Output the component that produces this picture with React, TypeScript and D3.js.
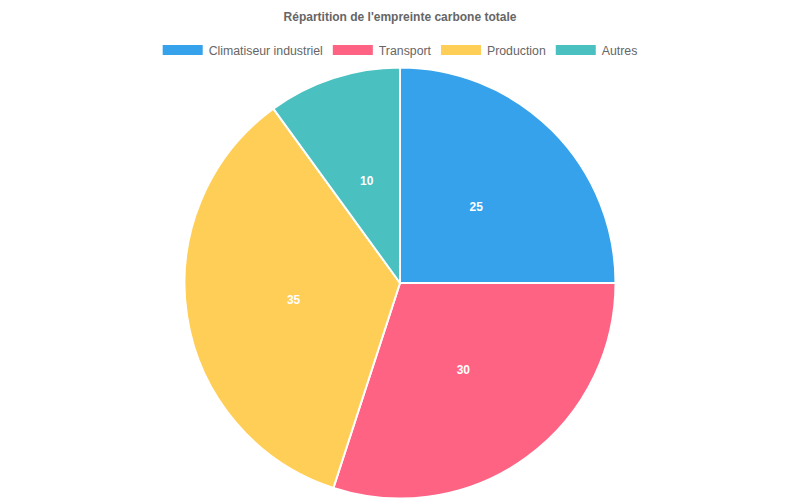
import React from "react";
import * as d3 from "d3";

const categories = ["Climatiseur industriel", "Transport", "Production", "Autres"];
const values = [25, 30, 35, 10];
const colors = ["#36A2EB", "#FF6384", "#FFCE56", "#4BC0C0"];
const title = "Répartition de l'empreinte carbone totale";

const W = 800;
const H = 500;
const cx = 400;
const cy = 283;
const R = 215.5;
const FONT = "'Liberation Sans', Arial, Helvetica, sans-serif";
const LEG_FS = 12.3;

export default function App() {
  const pie = d3.pie<number>().sort(null).value((d) => d)(values);
  const arc = d3.arc<d3.PieArcDatum<number>>().innerRadius(0).outerRadius(R);
  const labelArc = d3.arc<d3.PieArcDatum<number>>().innerRadius(R * 0.5).outerRadius(R * 0.5);

  // legend layout
  const ctx = document.createElement("canvas").getContext("2d")!;
  ctx.font = `${LEG_FS}px ${FONT}`;
  const boxW = 40;
  const gap = 6;
  const itemGap = 10;
  const widths = categories.map((c) => boxW + gap + ctx.measureText(c).width);
  const total = widths.reduce((a, b) => a + b, 0) + itemGap * (categories.length - 1);
  let x = (W - total) / 2;
  const items = categories.map((c, i) => {
    const it = { c, x, color: colors[i] };
    x += widths[i] + itemGap;
    return it;
  });

  return (
    <svg width={W} height={H} style={{ position: "absolute", left: 0, top: 0, background: "#fff" }}>
      <text x={W / 2} y={17} textAnchor="middle" dominantBaseline="central" fontFamily={FONT} fontSize={12} fontWeight="bold" fill="#666">
        {title}
      </text>
      {items.map((it) => (
        <g key={it.c}>
          <rect x={it.x} y={45} width={boxW} height={10} fill={it.color} />
          <text x={it.x + boxW + gap} y={50.5} dominantBaseline="central" fontFamily={FONT} fontSize={LEG_FS} fill="#666">
            {it.c}
          </text>
        </g>
      ))}
      <g transform={`translate(${cx},${cy})`}>
        {pie.map((p, i) => (
          <path key={i} d={arc(p)!} fill={colors[i]} stroke="#fff" strokeWidth={2} strokeLinejoin="round" />
        ))}
        {pie.map((p, i) => {
          const [lx, ly] = labelArc.centroid(p);
          return (
            <text key={"l" + i} x={lx} y={ly} textAnchor="middle" dominantBaseline="central" fontFamily={FONT} fontSize={12} fontWeight="bold" fill="#fff">
              {values[i]}
            </text>
          );
        })}
      </g>
    </svg>
  );
}
